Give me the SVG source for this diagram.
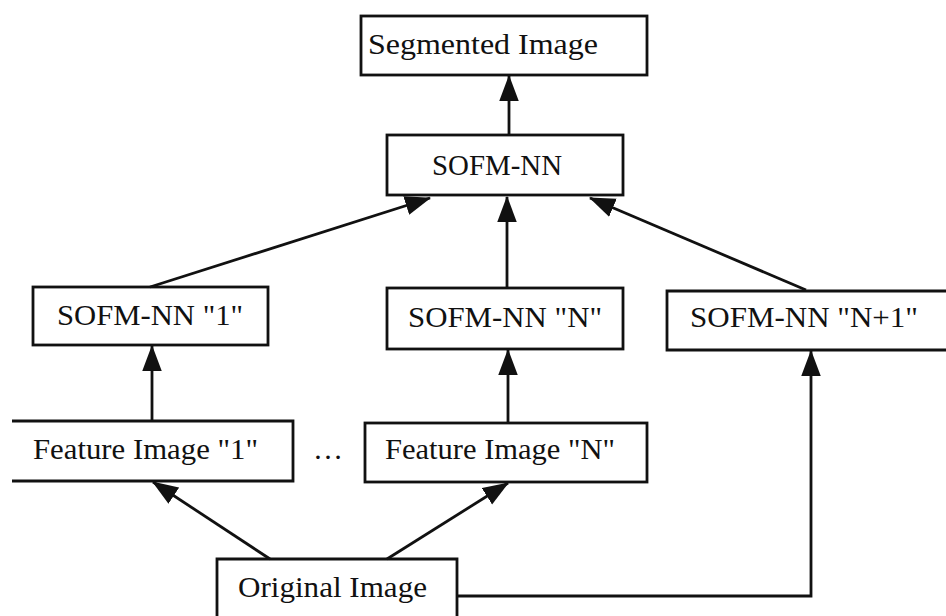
<svg xmlns="http://www.w3.org/2000/svg" width="946" height="616" viewBox="0 0 946 616">
<style>
.box{fill:none;stroke:#111;stroke-width:2.8}
.lbl{font-family:"Liberation Serif","Times New Roman",serif;font-size:30px;fill:#111}
.con{fill:none;stroke:#111;stroke-width:2.8}
</style>
<defs>
<marker id="ah" markerUnits="userSpaceOnUse" markerWidth="26" markerHeight="20" viewBox="0 0 24 18" refX="23" refY="9" orient="auto">
<path d="M0,0 L24,9 L0,18 Z" fill="#111"/>
</marker>
</defs>
<rect width="946" height="616" fill="#fff"/>
<g id="connectors">
<line class="con" x1="509" y1="135" x2="509" y2="76" marker-end="url(#ah)"/>
<line class="con" x1="150" y1="287" x2="430" y2="198" marker-end="url(#ah)"/>
<line class="con" x1="507" y1="288" x2="507" y2="197" marker-end="url(#ah)"/>
<line class="con" x1="806" y1="290" x2="590" y2="198" marker-end="url(#ah)"/>
<line class="con" x1="152" y1="421" x2="152" y2="346" marker-end="url(#ah)"/>
<line class="con" x1="508" y1="422" x2="508" y2="350" marker-end="url(#ah)"/>
<line class="con" x1="270" y1="559" x2="153" y2="482" marker-end="url(#ah)"/>
<line class="con" x1="387" y1="559" x2="508" y2="483" marker-end="url(#ah)"/>
<path class="con" d="M457,596 H811 V351" marker-end="url(#ah)"/>
</g>
<g id="segmented">
<rect class="box" x="361" y="16" width="286" height="59"/>
<text class="lbl" x="368" y="54" textLength="230" lengthAdjust="spacingAndGlyphs">Segmented Image</text>
</g>
<g id="sofm">
<rect class="box" x="387" y="135" width="236" height="60"/>
<text class="lbl" x="432" y="175" textLength="130" lengthAdjust="spacingAndGlyphs">SOFM-NN</text>
</g>
<g id="sofm1">
<rect class="box" x="33" y="287" width="235" height="58"/>
<text class="lbl" x="57" y="325" textLength="186" lengthAdjust="spacingAndGlyphs">SOFM-NN "1"</text>
</g>
<g id="sofmN">
<rect class="box" x="387" y="288" width="236" height="61"/>
<text class="lbl" x="408" y="327" textLength="194" lengthAdjust="spacingAndGlyphs">SOFM-NN "N"</text>
</g>
<g id="sofmN1">
<path class="box" d="M946,291 H667 V350 H946"/>
<text class="lbl" x="690" y="327" textLength="228" lengthAdjust="spacingAndGlyphs">SOFM-NN "N+1"</text>
</g>
<g id="feature1">
<path class="box" d="M12,421 H293 V481 H12"/>
<text class="lbl" x="33" y="459" textLength="225" lengthAdjust="spacingAndGlyphs">Feature Image "1"</text>
</g>
<g id="dots">
<text class="lbl" x="313" y="459">…</text>
</g>
<g id="featureN">
<rect class="box" x="365" y="423" width="282" height="59"/>
<text class="lbl" x="385" y="459" textLength="230" lengthAdjust="spacingAndGlyphs">Feature Image "N"</text>
</g>
<g id="original">
<path class="box" d="M217,620 V559 H457 V620"/>
<text class="lbl" x="238" y="597" textLength="189" lengthAdjust="spacingAndGlyphs">Original Image</text>
</g>
</svg>
